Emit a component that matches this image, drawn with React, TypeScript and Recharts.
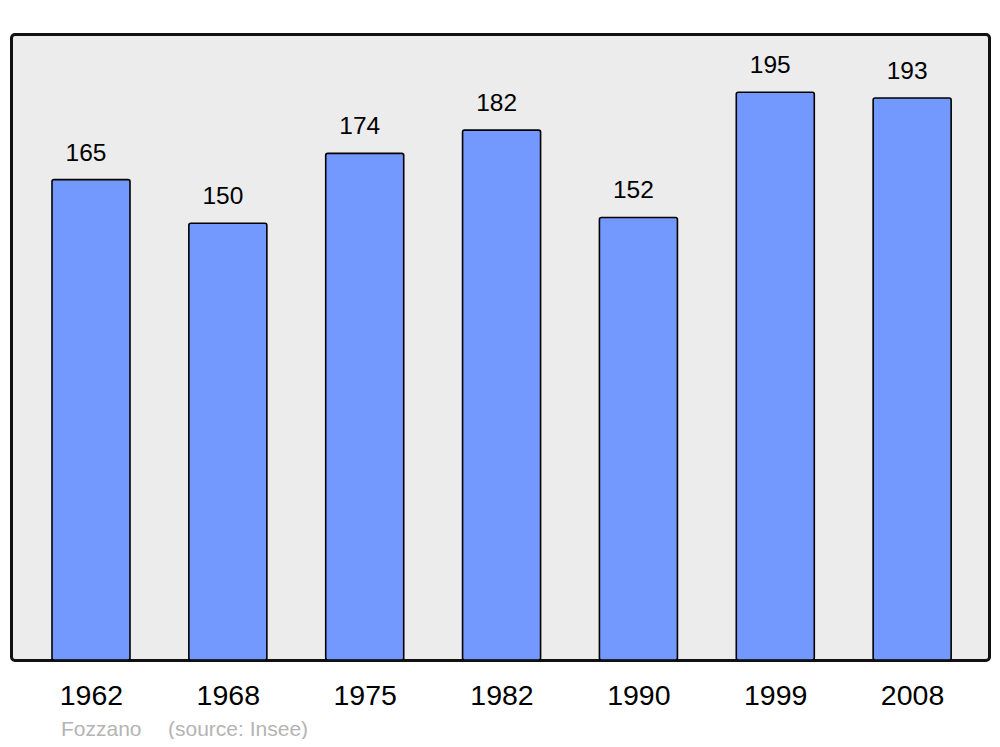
import { BarChart, Bar, XAxis, YAxis, LabelList } from 'recharts';

const years = ['1962', '1968', '1975', '1982', '1990', '1999', '2008'];
const population = [165, 150, 174, 182, 152, 195, 193];
const place = 'Fozzano';
const source = '(source: Insee)';

const data = years.map((year, i) => ({ year, population: population[i] }));

const font = '"Liberation Sans", Arial, sans-serif';

const App = () => (
  <div style={{ position: 'relative', width: 1000, height: 747, margin: -8, fontFamily: font }}>
    {/* plot frame behind the chart */}
    <div
      style={{
        position: 'absolute',
        left: 9.5,
        top: 32.5,
        width: 981,
        height: 629,
        boxSizing: 'border-box',
        background: '#ececec',
        border: '3px solid #111',
        borderRadius: 5
      }}
    />
    <BarChart
      width={1000}
      height={747}
      data={data}
      margin={{ top: 34, right: 11, left: 11, bottom: 57 }}
    >
      <YAxis hide domain={[0, 215]} allowDataOverflow />
      <XAxis
        dataKey='year'
        axisLine={false}
        tickLine={false}
        tickSize={0}
        tickMargin={25}
        height={30}
        padding={{ left: 12, right: 8 }}
        tick={{ fill: '#000', fontSize: 28.5, fontFamily: font }}
      />
      <Bar
        dataKey='population'
        fill='#7399ff'
        stroke='#000'
        strokeWidth={1.6}
        barSize={78}
        radius={2}
        isAnimationActive={false}
      >
        <LabelList
          dataKey='population'
          position='top'
          offset={19}
          dx={-5}
          fill='#000'
          fontSize={24.5}
          fontFamily={font}
        />
      </Bar>
    </BarChart>
    <div
      style={{
        position: 'absolute',
        left: 61,
        top: 717,
        fontSize: 21,
        color: '#b4b4b4',
        whiteSpace: 'pre'
      }}
    >
      <span>{place}</span>
      <span style={{ position: 'absolute', left: 107 }}>{source}</span>
    </div>
  </div>
);

export default App;
